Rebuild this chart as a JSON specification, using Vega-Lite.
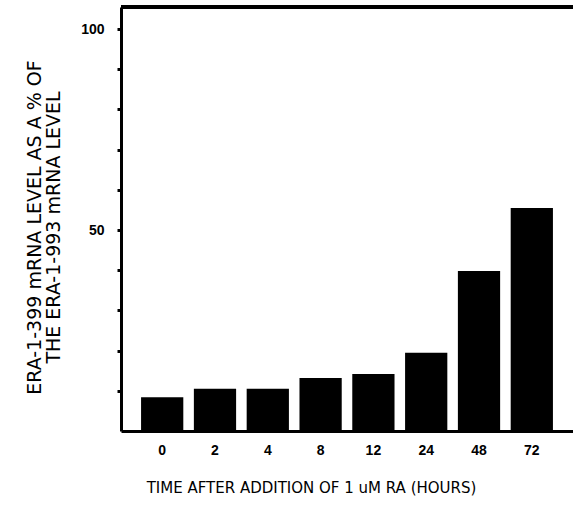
{
  "$schema": "https://vega.github.io/schema/vega-lite/v6.json",
  "autosize": {"type": "none"},
  "width": 452,
  "height": 424,
  "padding": {"left": 121, "top": 7, "right": 0, "bottom": 75},
  "background": "white",
  "config": {"view": {"stroke": null}, "font": "Liberation Sans"},
  "data": {"values": [
    {"time": "0", "level": 8.4},
    {"time": "2", "level": 10.5},
    {"time": "4", "level": 10.5},
    {"time": "8", "level": 13.2},
    {"time": "12", "level": 14.2},
    {"time": "24", "level": 19.5},
    {"time": "48", "level": 39.8},
    {"time": "72", "level": 55.5}
  ]},
  "layer": [
    {
      "mark": {"type": "bar", "color": "black"},
      "encoding": {
        "x": {"field": "time", "type": "ordinal", "sort": null,
          "scale": {"paddingInner": 0.2, "paddingOuter": 0.38},
          "axis": {"title": "TIME AFTER ADDITION OF 1 uM RA (HOURS)", "labelAngle": 0,
            "labelFontSize": 14, "labelFontWeight": "bold", "labelColor": "black", "labelPadding": 12,
            "ticks": false, "domainColor": "black", "domainWidth": 3,
            "titleFont": "DejaVu Sans", "titleFontSize": 15, "titleFontWeight": "normal", "titleColor": "black",
            "titlePadding": 23, "titleX": 190, "titleAlign": "center"}},
        "y": {"field": "level", "type": "quantitative",
          "scale": {"domain": [0, 105.5], "nice": false},
          "axis": {"title": ["ERA-1-399 mRNA LEVEL AS A % OF", "THE ERA-1-993 mRNA LEVEL"],
            "values": [10, 20, 30, 40, 50, 60, 70, 80, 90, 100],
            "labelExpr": "datum.value == 50 || datum.value == 100 ? datum.label : ''",
            "grid": false, "tickSize": 4, "tickWidth": 3, "tickColor": "black",
            "domainColor": "black", "domainWidth": 3,
            "labelFontSize": 14, "labelFontWeight": "bold", "labelColor": "black", "labelPadding": 13,
            "titleFont": "DejaVu Sans", "titleFontSize": 19, "titleFontWeight": "normal", "titleColor": "black",
            "titlePadding": 17, "titleLineHeight": 19, "titleY": 220}}
      }
    },
    {
      "mark": {"type": "rule", "color": "black", "strokeWidth": 3},
      "encoding": {"y": {"datum": 105.5, "type": "quantitative"}}
    }
  ]
}
